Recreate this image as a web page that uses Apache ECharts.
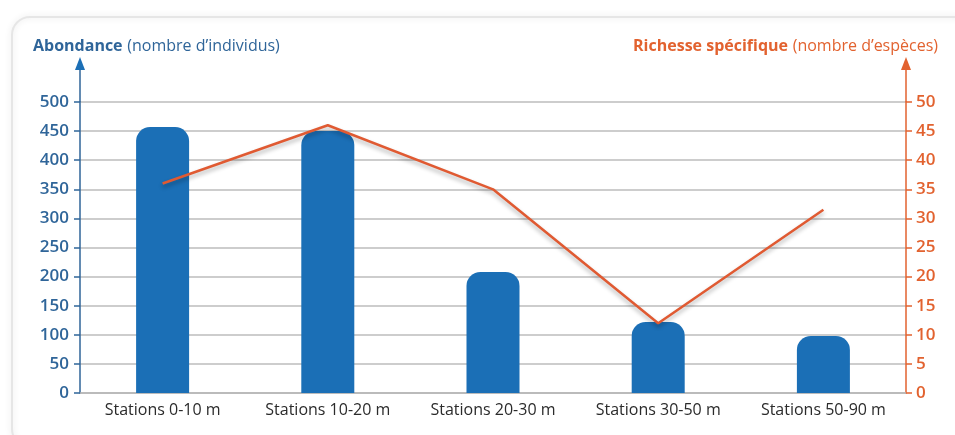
<!DOCTYPE html>
<html><head><meta charset="utf-8">
<script src="https://cdn.jsdelivr.net/npm/echarts@6/dist/echarts.min.js"></script>
<style>html,body{margin:0;padding:0;background:#fff}#c{width:955px;height:435px}</style>
</head><body><div id="c"></div>
<script>
const categories = ['Stations 0-10 m','Stations 10-20 m','Stations 20-30 m','Stations 30-50 m','Stations 50-90 m'];
const abondance = [457, 450, 208, 122, 98];
const richesse = [36, 46, 35, 12, 31.5];
const leftTicks = [0,50,100,150,200,250,300,350,400,450,500];
const rightTicks = [0,5,10,15,20,25,30,35,40,45,50];

const BLUE = '#1b6fb6', BLUE_TXT = '#2f6599', ORANGE = '#e2622f', FONT = '"Open Sans", "Noto Sans", sans-serif';
const chart = echarts.init(document.getElementById('c'));
chart.setOption({
  backgroundColor: '#fff',
  animation: false,
  textStyle: { fontFamily: FONT },
  title: [
    { left: 28, top: 32, text: '{b|Abondance} {n|(nombre d\u2019individus)}',
      textStyle: { fontWeight: 'normal', rich: { b: { fontFamily: FONT, fontWeight: 'bold', fontSize: 16, color: BLUE_TXT }, n: { fontFamily: FONT, fontWeight: 'normal', fontSize: 16, color: BLUE_TXT } } } },
    { right: 12, top: 32, text: '{b|Richesse sp\u00e9cifique} {n|(nombre d\u2019esp\u00e8ces)}',
      textStyle: { fontWeight: 'normal', rich: { b: { fontFamily: FONT, fontWeight: 'bold', fontSize: 16, color: ORANGE }, n: { fontFamily: FONT, fontWeight: 'normal', fontSize: 16, color: ORANGE } } } }
  ],
  grid: { left: 80, right: 49, top: 102, bottom: 42, containLabel: false },
  xAxis: {
    type: 'category', data: categories,
    axisLine: { show: true, lineStyle: { color: '#b5b5b5', width: 1.5 } },
    axisTick: { show: false },
    axisLabel: { color: '#2b2b2b', fontSize: 16, fontWeight: 500, margin: 9, fontFamily: FONT }
  },
  yAxis: [
    { type: 'value', min: leftTicks[0], max: leftTicks[leftTicks.length-1], interval: 50, position: 'left',
      axisLine: { show: true, lineStyle: { color: BLUE_TXT, width: 1.5 } },
      axisTick: { show: true, length: 6, lineStyle: { color: BLUE_TXT, width: 1.5 } },
      axisLabel: { color: BLUE_TXT, fontSize: 17, fontWeight: 600, margin: 11, fontFamily: FONT },
      splitLine: { show: true, lineStyle: { color: '#bdbdbd', width: 1.5 } } },
    { type: 'value', min: rightTicks[0], max: rightTicks[rightTicks.length-1], interval: 5, position: 'right',
      axisLine: { show: true, lineStyle: { color: ORANGE, width: 1.5 } },
      axisTick: { show: true, length: 6, lineStyle: { color: ORANGE, width: 1.5 } },
      axisLabel: { color: ORANGE, fontSize: 17, fontWeight: 600, margin: 10, fontFamily: FONT },
      splitLine: { show: false } }
  ],
  series: [
    { type: 'bar', data: abondance, yAxisIndex: 0, barWidth: 53,
      itemStyle: { color: BLUE, borderRadius: [14,14,0,0] }, z: 2 },
    { type: 'line', data: richesse, yAxisIndex: 1, symbol: 'none',
      lineStyle: { color: '#e05a32', width: 2.5, shadowColor: 'rgba(0,0,0,0.3)', shadowBlur: 4, shadowOffsetY: 3 }, z: 3 }
  ]
});

function addArrows() {
  const lTop = chart.convertToPixel({ yAxisIndex: 0 }, leftTicks[leftTicks.length-1]);
  const rTop = chart.convertToPixel({ yAxisIndex: 1 }, rightTicks[rightTicks.length-1]);
  const lx = 80, rx = 955 - 49;
  const tip = 57;
  chart.setOption({ graphic: [
    { type: 'rect', shape: { x: 12, y: 17, width: 960, height: 430, r: 18 }, style: { fill: 'none', stroke: '#e6e6e6', lineWidth: 2, shadowBlur: 6, shadowColor: 'rgba(0,0,0,0.12)' }, silent: true, z: -10 },
    { type: 'line', shape: { x1: lx, y1: lTop, x2: lx, y2: tip + 8 }, style: { stroke: BLUE_TXT, lineWidth: 1.5 } },
    { type: 'polygon', shape: { points: [[lx, tip], [lx - 5, tip + 13], [lx + 5, tip + 13]] }, style: { fill: BLUE } },
    { type: 'line', shape: { x1: rx, y1: rTop, x2: rx, y2: tip + 8 }, style: { stroke: ORANGE, lineWidth: 1.5 } },
    { type: 'polygon', shape: { points: [[rx, tip], [rx - 5, tip + 13], [rx + 5, tip + 13]] }, style: { fill: ORANGE } }
  ]});
}
addArrows();
</script></body></html>
